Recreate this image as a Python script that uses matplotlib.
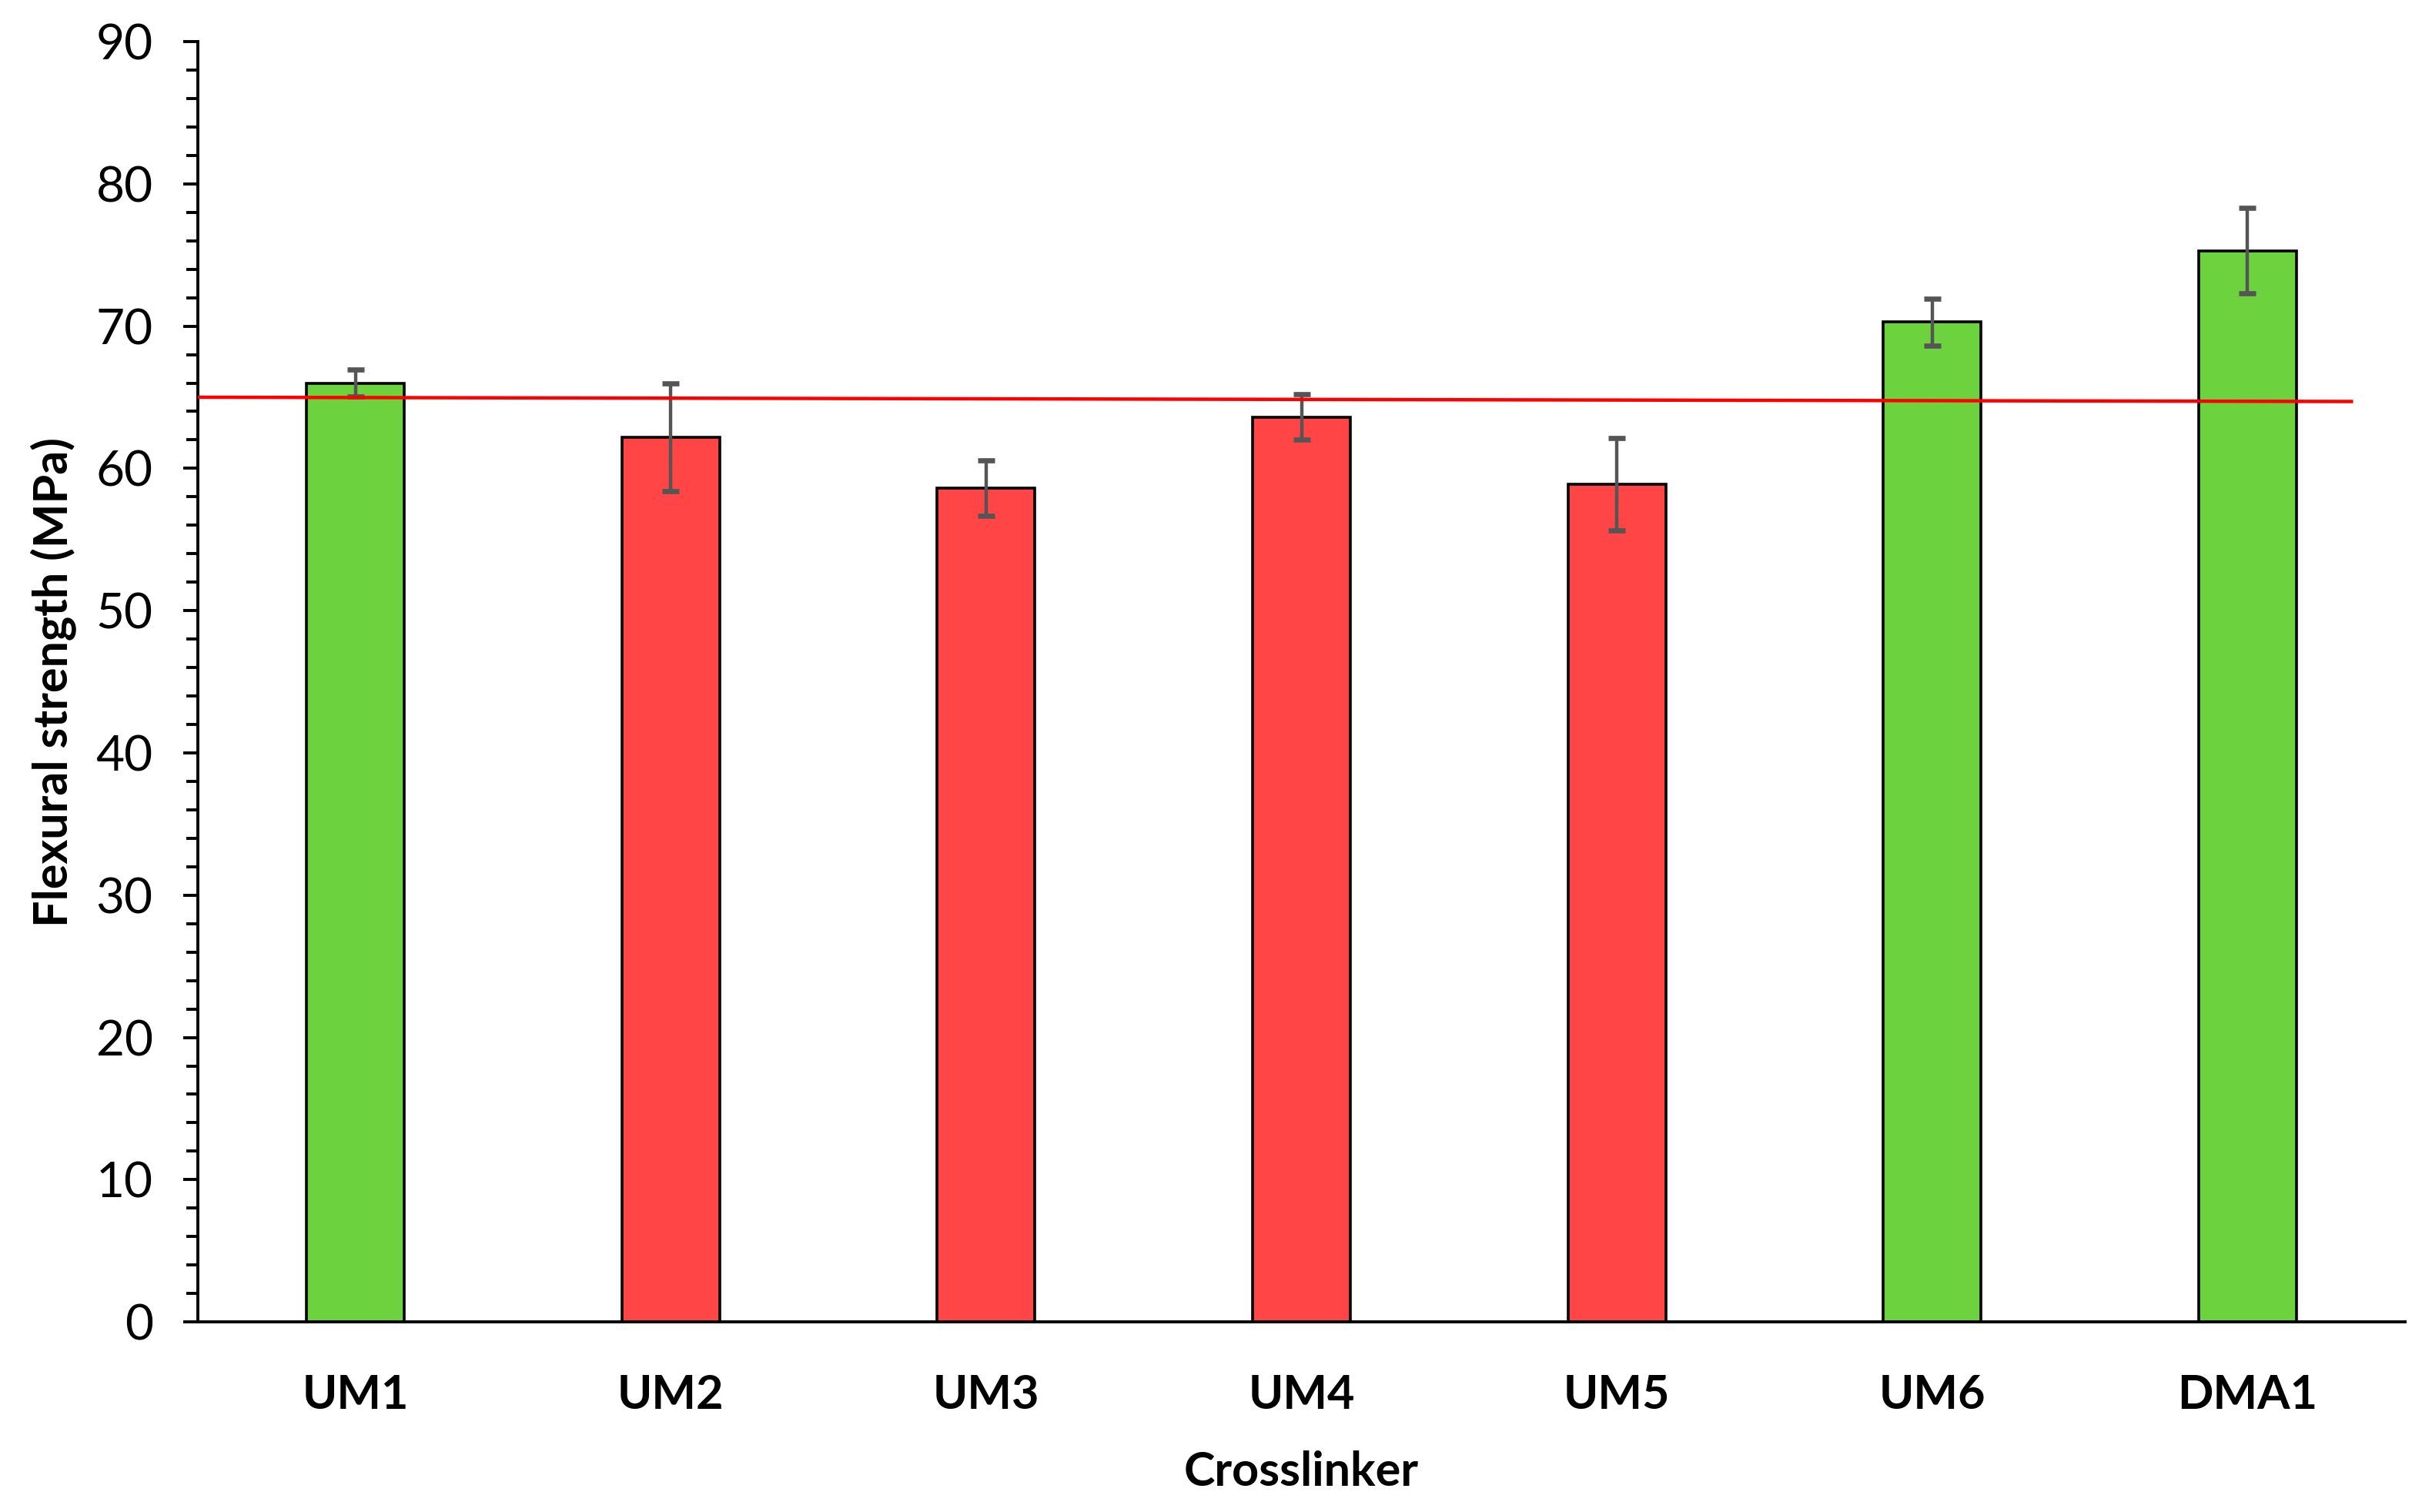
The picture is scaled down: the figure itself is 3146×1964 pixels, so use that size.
import matplotlib
matplotlib.use("Agg")
import matplotlib.pyplot as plt
from matplotlib.ticker import MultipleLocator

categories = ["UM1", "UM2", "UM3", "UM4", "UM5", "UM6", "DMA1"]
strength = [66.0, 62.2, 58.6, 63.6, 58.9, 70.3, 75.3]
errors = [0.95, 3.8, 1.95, 1.6, 3.25, 1.65, 3.0]
bar_colors = ["#6CD33F", "#FF4545", "#FF4545", "#FF4545", "#FF4545", "#6CD33F", "#6CD33F"]
ref_x = [-0.5, 6.33]
ref_y = [65.0, 64.7]

plt.rcParams['font.family'] = ['Lato', 'DejaVu Sans']

fig = plt.figure(figsize=(15.73, 9.82), dpi=200)
ax = fig.add_axes([0.0817, 0.1257, 0.9113, 0.8468])

x = list(range(len(categories)))
ax.bar(x, strength, width=0.31, color=bar_colors, edgecolor="black", linewidth=1.3, zorder=2)
ax.errorbar(x, strength, yerr=errors, fmt="none", ecolor="#555555", elinewidth=1.6,
            capsize=4, capthick=2.4, zorder=3)
ax.plot(ref_x, ref_y, color="#FF0000", linewidth=1.6, zorder=4)

ax.set_xlim(-0.5, 6.5)
ax.set_ylim(0, 90)
ax.yaxis.set_major_locator(MultipleLocator(10))
ax.yaxis.set_minor_locator(MultipleLocator(2))

for s in ["top", "right"]:
    ax.spines[s].set_visible(False)
for s in ["left", "bottom"]:
    ax.spines[s].set_linewidth(1.4)
    ax.spines[s].set_color("black")

ax.set_xticks(x)
ax.set_xticklabels(categories, fontsize=22, fontweight="bold")
ax.tick_params(axis="x", length=0, pad=24)
ax.tick_params(axis="y", which="major", direction="out", length=7, width=1.4, labelsize=23, pad=14)
ax.tick_params(axis="y", which="minor", direction="out", length=5.5, width=1.4)

ax.set_ylabel("Flexural strength (MPa)", fontsize=22, fontweight="bold", labelpad=9)
ax.set_xlabel("Crosslinker", fontsize=22, fontweight="bold", labelpad=16)

fig.savefig("out.png", dpi=200, facecolor="white")
